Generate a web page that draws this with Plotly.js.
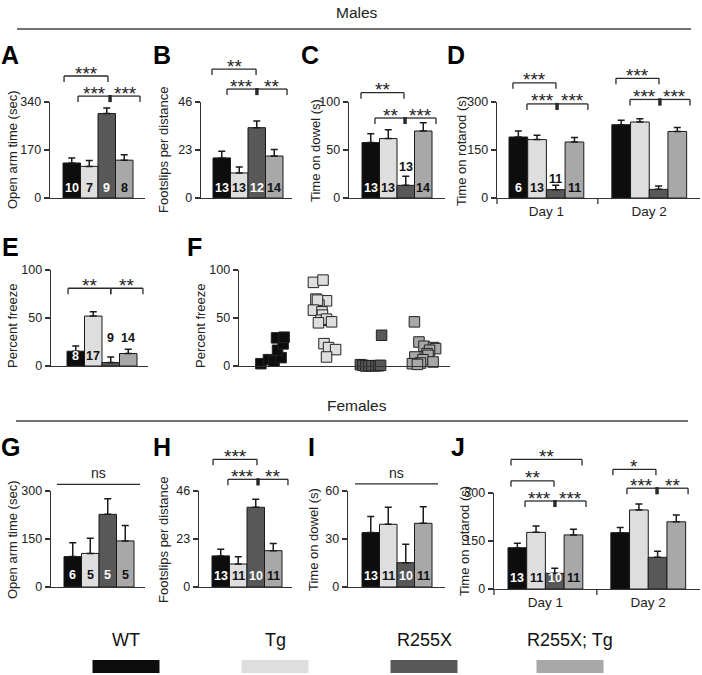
<!DOCTYPE html>
<html><head><meta charset="utf-8">
<script src="https://cdn.plot.ly/plotly-3.0.1.min.js"></script>
<style>html,body{margin:0;padding:0;background:#fff;}#chart{width:702px;height:675px;}</style>
</head><body><div id="chart"></div>
<script>
// ---------------- DATA ----------------
const groups = ['WT', 'Tg', 'R255X', 'R255X; Tg'];
const dayLabels = ['Day 1', 'Day 2'];
// Males
const openArmM = [124, 112, 299, 134];
const openArmM_sem = [18, 21, 20, 19];
const openArmM_n = [10, 7, 9, 8];
const footslipsM = [19.2, 12.0, 33.7, 20.1];
const footslipsM_sem = [3.2, 2.9, 3.2, 3.1];
const footslipsM_n = [13, 13, 12, 14];
const dowelM = [57.7, 61.9, 13.2, 69.8];
const dowelM_sem = [9.3, 9.1, 9.4, 8.7];
const dowelM_n = [13, 13, 13, 14];
const rotarodM_day1 = [190.6, 182.5, 26, 175];
const rotarodM_day1_sem = [18.4, 13.5, 14, 14];
const rotarodM_day2 = [229, 237.5, 27, 208];
const rotarodM_day2_sem = [14, 10.5, 10.5, 12];
const rotarodM_n = [6, 13, 11, 11];
const freezeM = [15.4, 52, 3.6, 13];
const freezeM_sem = [5.5, 4.4, 5.8, 4.4];
const freezeM_n = [8, 17, 9, 14];
// Panel F individual animals (percent freeze) and horizontal jitter (in group units)
const freezeWT = [2.4, 6.6, 5, 8.7, 16.4, 23, 29.3, 30];
const jitterWT = [-0.24, -0.09, 0.02, 0.16, 0.09, 0.2, 0.07, 0.22];
const freezeTg = [87.1, 89.5, 69.7, 67.9, 63.4, 68.6, 58.2, 56.4, 53, 47.7, 48.8, 46, 45, 23.3, 19.2, 17.1, 9.4];
const jitterTg = [-0.2, -0.01, -0.15, 0.06, -0.09, -0.12, -0.2, -0.03, -0.02, -0.05, 0.06, 0.16, -0.1, 0.01, 0.1, 0.24, 0.06];
const freezeR = [1.4, 0.7, 0, 0.3, 0.3, 0.3, 0.3, 0.7, 32];
const jitterR = [-0.27, -0.22, -0.16, -0.1, -0.04, 0.04, 0.09, 0.13, 0.15];
const freezeRTg = [46, 25, 20.6, 19.2, 18.1, 16.4, 12.9, 11.1, 9.4, 6.6, 4.2, 3.1, 2.4, 1.7];
const jitterRTg = [-0.2, -0.11, -0.01, 0.18, 0.22, 0.1, 0.05, 0.07, -0.19, -0.03, 0.17, -0.08, -0.24, -0.14];
// Females
const openArmF = [95, 105, 227, 144];
const openArmF_sem = [43, 47, 49, 48];
const openArmF_n = [6, 5, 5, 5];
const footslipsF = [14.9, 11.0, 38.2, 17.4];
const footslipsF_sem = [3.2, 3.5, 3.8, 3.5];
const footslipsF_n = [13, 11, 10, 11];
const dowelF = [34, 39.2, 15.2, 39.8];
const dowelF_sem = [10, 10.6, 11.5, 10.4];
const dowelF_n = [13, 11, 10, 11];
const rotarodF_day1 = [129, 177, 49, 169];
const rotarodF_day1_sem = [14, 20, 16, 18];
const rotarodF_day2 = [176, 247, 99, 210];
const rotarodF_day2_sem = [16, 19, 19, 21];
const rotarodF_n = [13, 11, 10, 11];

// ---------------- STYLE ----------------
const W = 702, H = 675;
const FN = '"Liberation Sans Narrow","Arial Narrow","Liberation Sans",Arial,sans-serif';
const FB = '"Liberation Sans",Arial,sans-serif';
const COLORS = ['#0d0d0d', '#dedede', '#585858', '#a8a8a8'];
const NCOL = ['#ffffff', '#111111', '#ffffff', '#111111'];
const LINE = '#2a2a2a';
const POS4 = [0, 1, 2, 3];
const POS8 = [0, 1, 2, 3, 5.5, 6.5, 7.5, 8.5];
const TICKSZ = 12.5, TITLESZ = 13, NSZ = 12.5;

const panels = [
  {key:'A', x:[50,145], y:[102,198], max:340, ticks:[0,170,340], b0:63, u:17.5,
   title:'Open arm time (sec)', tpos:[12,150], letter:[10,55],
   bars:{pos:POS4, mean:openArmM, sem:openArmM_sem}, n:openArmM_n, nY:[10,10,10,10],
   brackets:[[-0.44,2.07,432,'***'],[0.36,2.19,361,'***'],[2.19,3.9,361,'***']]},
  {key:'B', x:[201,292], y:[102,198], max:46, ticks:[0,23,46], b0:213, u:17.5,
   title:'Footslips per distance', tpos:[163,150], letter:[162,55],
   bars:{pos:POS4, mean:footslipsM, sem:footslipsM_sem}, n:footslipsM_n, nY:[10,10,10,10],
   brackets:[[-0.56,1.96,61.8,'**'],[0.3,2.01,52.2,'***'],[2.01,3.73,52.2,'**']]},
  {key:'C', x:[349,445], y:[102,198], max:100, ticks:[0,50,100], b0:362, u:17.5,
   title:'Time on dowel (s)', tpos:[315,151], letter:[310,55],
   bars:{pos:POS4, mean:dowelM, sem:dowelM_sem}, n:dowelM_n, nY:[10,10,31,10],
   brackets:[[-0.56,1.9,109.7,'**'],[0.24,1.96,83.3,'**'],[1.96,3.73,83.3,'***']]},
  {key:'D', x:[497,700], y:[102,198], max:300, ticks:[0,150,300], b0:509, u:18.7,
   title:'Time on rotarod (s)', tpos:[461,151], letter:[456,55], days:true,
   bars:{pos:POS8, mean:rotarodM_day1.concat(rotarodM_day2), sem:rotarodM_day1_sem.concat(rotarodM_day2_sem)},
   n:rotarodM_n, nY:[10,10,19,10],
   brackets:[[-0.29,2.01,360,'***'],[0.46,2.07,294,'***'],[2.07,3.72,294,'***'],
             [5.22,7.52,374,'***'],[5.97,7.57,308,'***'],[7.57,9.18,308,'***']]},
  {key:'E', x:[51,148], y:[270,366], max:100, ticks:[0,50,100], b0:67, u:17.5,
   title:'Percent freeze', tpos:[12,326], letter:[10,247], thinMid:true,
   bars:{pos:POS4, mean:freezeM, sem:freezeM_sem}, n:freezeM_n, nY:[10,10,28,28],
   brackets:[[-0.44,2.0,81,'**'],[2.0,3.84,81,'**']]},
  {key:'F', x:[239,450], y:[270,366], max:100, ticks:[0,50,100], b0:247.75, u:50.5,
   title:'Percent freeze', tpos:[200,326], letter:[194,247],
   scatter:[[freezeWT,jitterWT],[freezeTg,jitterTg],[freezeR,jitterR],[freezeRTg,jitterRTg]]},
  {key:'G', x:[51,145], y:[491,587], max:300, ticks:[0,150,300], b0:64, u:17.5,
   title:'Open arm time (sec)', tpos:[12,540], letter:[10,447],
   bars:{pos:POS4, mean:openArmF, sem:openArmF_sem}, n:openArmF_n, nY:[12,12,12,12],
   ns:[-0.9,3.84,321]},
  {key:'H', x:[199,292], y:[491,587], max:46, ticks:[0,23,46], b0:212, u:17.5,
   title:'Footslips per distance', tpos:[163,540], letter:[162,447],
   bars:{pos:POS4, mean:footslipsF, sem:footslipsF_sem}, n:footslipsF_n, nY:[11,11,11,11],
   brackets:[[-0.44,2.07,61.2,'***'],[0.41,2.13,51.6,'***'],[2.13,3.84,51.6,'**']]},
  {key:'I', x:[348,445], y:[491,587], max:60, ticks:[0,30,60], b0:362, u:17.5,
   title:'Time on dowel (s)', tpos:[313,540], letter:[311,447],
   bars:{pos:POS4, mean:dowelF, sem:dowelF_sem}, n:dowelF_n, nY:[11,11,11,11],
   ns:[-0.9,3.84,64.4]},
  {key:'J', x:[494,700], y:[493,589], max:300, ticks:[0,150,300], b0:508, u:18.7,
   title:'Time on rotarod (s)', tpos:[464,541], letter:[458,447], days:true,
   bars:{pos:POS8, mean:rotarodF_day1.concat(rotarodF_day2), sem:rotarodF_day1_sem.concat(rotarodF_day2_sem)},
   n:rotarodF_n, nY:[11,11,11,11],
   brackets:[[-0.34,3.46,405,'**'],[-0.34,1.96,338,'**'],[0.41,2.01,275,'***'],[2.01,3.67,275,'***'],
             [5.11,7.41,374,'*'],[5.86,7.47,315,'***'],[7.47,9.13,315,'**']]}
];

// ---------------- BUILD ----------------
const traces = [];
const shapes = [];
const annotations = [];
const layout = {
  width: W, height: H, autosize: false,
  margin: {l:0, r:0, t:0, b:0, pad:0},
  paper_bgcolor: '#fff', plot_bgcolor: 'rgba(0,0,0,0)',
  showlegend: false, bargap: 0,
  font: {family: FN, size: 13, color: '#222'}
};
const px2x = p => p / W;
const px2y = p => 1 - p / H;

panels.forEach((p, i) => {
  const k = i + 1;
  const xid = k === 1 ? 'x' : 'x' + k, yid = k === 1 ? 'y' : 'y' + k;
  const xname = k === 1 ? 'xaxis' : 'xaxis' + k, yname = k === 1 ? 'yaxis' : 'yaxis' + k;
  const xmin = -0.5 - (p.b0 - p.x[0]) / p.u;
  const xmax = -0.5 + (p.x[1] - p.b0) / p.u;
  const bx = b => px2x(p.b0 + (b + 0.5) * p.u);           // bar unit -> paper x
  const vy = v => p.y[1] - (v / p.max) * (p.y[1] - p.y[0]); // value -> px y
  layout[xname] = {
    domain: [px2x(p.x[0]), px2x(p.x[1])], range: [xmin, xmax], anchor: yid,
    showline: true, linecolor: '#333', linewidth: 1.3, showgrid: false, zeroline: false,
    ticks: '', showticklabels: !!p.days, fixedrange: true,
    tickvals: p.days ? [1.5, 7] : undefined, ticktext: p.days ? dayLabels : undefined,
    tickfont: {family: FN, size: 13.5, color: '#222'}
  };
  layout[yname] = {
    domain: [px2y(p.y[1]), px2y(p.y[0])], range: [0, p.max], anchor: xid,
    showline: true, linecolor: '#333', linewidth: 1.3, showgrid: false, zeroline: false,
    ticks: 'outside', ticklen: 5, tickwidth: 1.3, tickcolor: '#333',
    tickvals: p.ticks, ticktext: p.ticks.map(String),
    tickfont: {family: FN, size: TICKSZ, color: '#222'}, fixedrange: true
  };
  // bars
  if (p.bars) {
    const cols = p.bars.pos.map((_, j) => COLORS[j % 4]);
    traces.push({
      type: 'bar', x: p.bars.pos, y: p.bars.mean, width: 1, xaxis: xid, yaxis: yid,
      marker: {color: cols, line: {color: '#1a1a1a', width: 1}},
      error_y: {type: 'data', symmetric: false, array: p.bars.sem, arrayminus: p.bars.sem.map(() => 0),
                color: '#1a1a1a', thickness: 1.5, width: 3.5},
      cliponaxis: false, hoverinfo: 'skip'
    });
    // n labels
    p.n.forEach((nv, j) => {
      const raised = p.nY[j] > 14;
      annotations.push({
        xref: 'paper', yref: 'paper', x: bx(p.bars.pos[j]), y: px2y(p.y[1] - p.nY[j]),
        text: '<b>' + nv + '</b>', showarrow: false, xanchor: 'center', yanchor: 'middle',
        font: {family: FN, size: NSZ, color: raised ? '#111' : NCOL[j]}
      });
    });
  }
  // scatter (panel F)
  if (p.scatter) {
    p.scatter.forEach((s, g) => {
      traces.push({
        type: 'scatter', mode: 'markers', xaxis: xid, yaxis: yid,
        x: s[1].map(j => g + j), y: s[0], cliponaxis: false, hoverinfo: 'skip',
        marker: {symbol: 'square', size: 10.5, color: COLORS[g], line: {color: '#222', width: 1}}
      });
    });
  }
  // significance brackets
  if (p.brackets) {
    const ends = {};
    p.brackets.forEach(b => {
      [b[0], b[1]].forEach(e => { const key = e + '_' + b[2]; ends[key] = (ends[key] || 0) + 1; });
    });
    p.brackets.forEach(b => {
      const yl = vy(b[2]);
      shapes.push({type: 'line', xref: 'paper', yref: 'paper', x0: bx(b[0]), x1: bx(b[1]),
                   y0: px2y(yl), y1: px2y(yl), line: {color: LINE, width: 1.3}});
      [b[0], b[1]].forEach(e => {
        const shared = ends[e + '_' + b[2]] > 1 && !p.thinMid;
        shapes.push({type: 'line', xref: 'paper', yref: 'paper', x0: bx(e), x1: bx(e),
                     y0: px2y(yl - (shared ? 1 : 0)), y1: px2y(yl + 6), line: {color: LINE, width: shared ? 3 : 1.3}});
      });
      annotations.push({xref: 'paper', yref: 'paper', x: bx((b[0] + b[1]) / 2), y: px2y(yl),
                        text: b[3], showarrow: false, xanchor: 'center', yanchor: 'middle', yshift: 3,
                        font: {family: FB, size: 19, color: '#222'}});
    });
  }
  if (p.ns) {
    const yl = vy(p.ns[2]);
    shapes.push({type: 'line', xref: 'paper', yref: 'paper', x0: bx(p.ns[0]), x1: bx(p.ns[1]),
                 y0: px2y(yl), y1: px2y(yl), line: {color: LINE, width: 1.3}});
    annotations.push({xref: 'paper', yref: 'paper', x: bx((p.ns[0] + p.ns[1]) / 2), y: px2y(yl),
                      text: 'ns', showarrow: false, xanchor: 'center', yanchor: 'middle', yshift: 11,
                      font: {family: FN, size: 14, color: '#222'}});
  }
  // day separator ticks
  if (p.days) {
    [xmin, 4.25].forEach(t => {
      const xp = px2x(p.b0 + (t + 0.5) * p.u);
      shapes.push({type: 'line', xref: 'paper', yref: 'paper', x0: xp, x1: xp,
                   y0: px2y(p.y[1]), y1: px2y(p.y[1] + 6), line: {color: '#333', width: 1.3}});
    });
  }
  // axis title
  annotations.push({xref: 'paper', yref: 'paper', x: px2x(p.tpos[0]), y: px2y(p.tpos[1]),
                    text: p.title, textangle: -90, showarrow: false, xanchor: 'center', yanchor: 'middle',
                    font: {family: FN, size: TITLESZ, color: '#222'}});
  // panel letter
  annotations.push({xref: 'paper', yref: 'paper', x: px2x(p.letter[0]), y: px2y(p.letter[1]),
                    text: '<b>' + p.key + '</b>', showarrow: false, xanchor: 'center', yanchor: 'middle',
                    font: {family: FB, size: 25, color: '#000'}});
});

// section headers
[['Males', 12, 29, 17, 691], ['Females', 405, 421, 16, 688]].forEach(h => {
  annotations.push({xref: 'paper', yref: 'paper', x: px2x(357), y: px2y(h[1]), text: h[0],
                    showarrow: false, xanchor: 'center', yanchor: 'middle',
                    font: {family: FN, size: 15.5, color: '#222'}});
  shapes.push({type: 'line', xref: 'paper', yref: 'paper', x0: px2x(h[3]), x1: px2x(h[4]),
               y0: px2y(h[2]), y1: px2y(h[2]), line: {color: '#444', width: 1.5}});
});

// group key at bottom
const keyX = [126, 275, 424, 570];
groups.forEach((g, j) => {
  annotations.push({xref: 'paper', yref: 'paper', x: px2x(keyX[j]), y: px2y(640), text: g,
                    showarrow: false, xanchor: 'center', yanchor: 'middle',
                    font: {family: FN, size: 18, color: '#111'}});
  shapes.push({type: 'rect', xref: 'paper', yref: 'paper', x0: px2x(keyX[j] - 33.5), x1: px2x(keyX[j] + 33.5),
               y0: px2y(673), y1: px2y(660), fillcolor: COLORS[j], line: {width: 0}});
});

layout.shapes = shapes;
layout.annotations = annotations;
Plotly.newPlot('chart', traces, layout, {displayModeBar: false, staticPlot: true});
</script>
</body></html>
